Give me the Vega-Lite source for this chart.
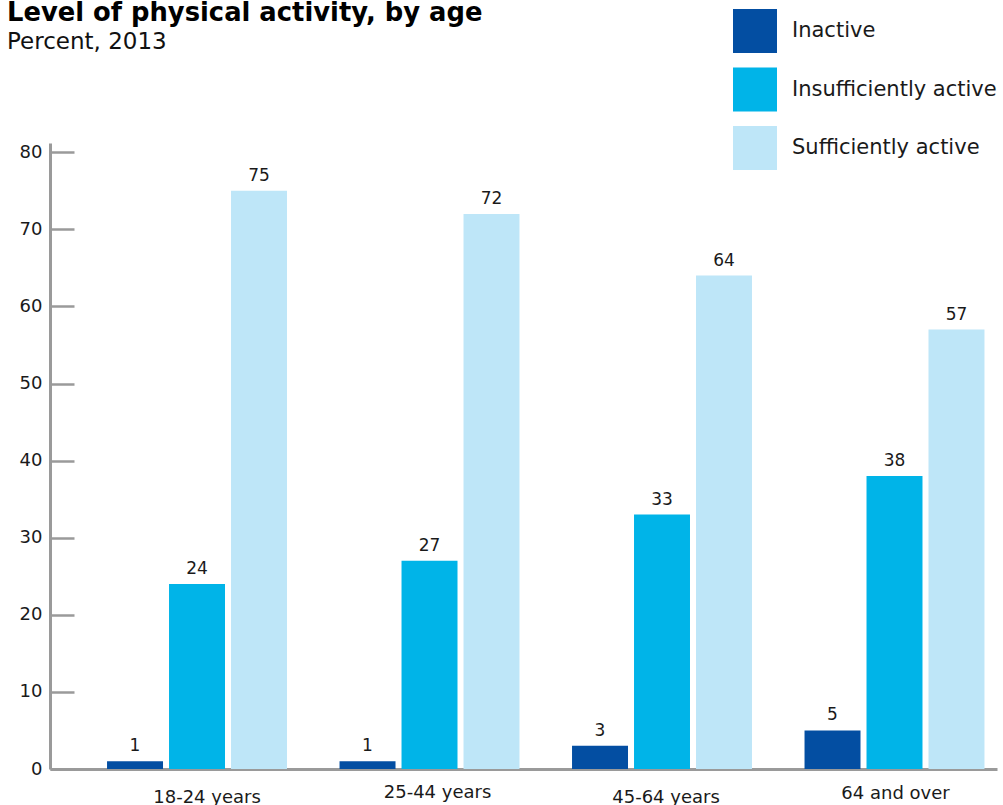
{
  "$schema": "https://vega.github.io/schema/vega-lite/v6.json",
  "autosize": {"type": "none"},
  "padding": {"left": 50, "top": 143, "right": 6, "bottom": 36},
  "width": 947,
  "height": 626,
  "background": "white",
  "title": {
    "text": "Level of physical activity, by age",
    "subtitle": "Percent, 2013",
    "anchor": "start",
    "frame": "group",
    "dx": -43,
    "offset": -46,
    "font": "DejaVu Sans",
    "fontSize": 25.8,
    "fontWeight": "bold",
    "color": "#000000",
    "subtitleFont": "DejaVu Sans",
    "subtitleFontSize": 23,
    "subtitleColor": "#111111",
    "subtitlePadding": 4
  },
  "config": {
    "view": {"stroke": null},
    "font": "DejaVu Sans"
  },
  "data": {
    "values": [
      {"age": "18-24 years", "level": "Inactive", "percent": 1},
      {"age": "18-24 years", "level": "Insufficiently active", "percent": 24},
      {"age": "18-24 years", "level": "Sufficiently active", "percent": 75},
      {"age": "25-44 years", "level": "Inactive", "percent": 1},
      {"age": "25-44 years", "level": "Insufficiently active", "percent": 27},
      {"age": "25-44 years", "level": "Sufficiently active", "percent": 72},
      {"age": "45-64 years", "level": "Inactive", "percent": 3},
      {"age": "45-64 years", "level": "Insufficiently active", "percent": 33},
      {"age": "45-64 years", "level": "Sufficiently active", "percent": 64},
      {"age": "64 and over", "level": "Inactive", "percent": 5},
      {"age": "64 and over", "level": "Insufficiently active", "percent": 38},
      {"age": "64 and over", "level": "Sufficiently active", "percent": 57}
    ]
  },
  "encoding": {
    "x": {
      "field": "age",
      "type": "nominal",
      "sort": ["18-24 years", "25-44 years", "45-64 years", "64 and over"],
      "scale": {"paddingInner": 0.226, "paddingOuter": 0.1496, "align": 0.82},
      "axis": {
        "title": null,
        "labelAngle": 0,
        "ticks": false,
        "tickSize": 0,
        "domainColor": "#9a9a9a",
        "domainWidth": 3,
        "labelFont": "DejaVu Sans",
        "labelFontSize": 18,
        "labelColor": "#1a1a1a",
        "labelBaseline": "alphabetic",
        "labelOffset": {
          "condition": [
            {"test": "datum.value === '18-24 years'", "value": 10},
            {"test": "datum.value === '25-44 years'", "value": 8},
            {"test": "datum.value === '45-64 years'", "value": 4}
          ],
          "value": 1
        },
        "labelPadding": {
          "condition": [
            {"test": "datum.value === '25-44 years'", "value": 28},
            {"test": "datum.value === '64 and over'", "value": 29}
          ],
          "value": 33
        }
      }
    },
    "xOffset": {
      "field": "level",
      "type": "nominal",
      "sort": ["Inactive", "Insufficiently active", "Sufficiently active"],
      "scale": {"paddingInner": 0.097, "paddingOuter": 0}
    },
    "y": {
      "field": "percent",
      "type": "quantitative",
      "scale": {"domain": [0, 81.2], "nice": false},
      "axis": {
        "title": null,
        "grid": false,
        "values": [0, 10, 20, 30, 40, 50, 60, 70, 80],
        "domainColor": "#9a9a9a",
        "domainWidth": 3,
        "tickColor": "#9a9a9a",
        "tickWidth": 2.5,
        "tickSize": -24,
        "labelPadding": 32,
        "labelFont": "DejaVu Sans",
        "labelFontSize": 18,
        "labelColor": "#1a1a1a"
      }
    }
  },
  "layer": [
    {
      "mark": {"type": "bar"},
      "encoding": {
        "color": {
          "field": "level",
          "type": "nominal",
          "scale": {
            "domain": ["Inactive", "Insufficiently active", "Sufficiently active"],
            "range": ["#034ea2", "#00b4e8", "#bee6f8"]
          },
          "legend": {
            "title": null,
            "orient": "none",
            "legendX": 683,
            "legendY": -134,
            "symbolType": "square",
            "symbolSize": 1936,
            "symbolStrokeWidth": 0,
            "symbolOpacity": 1,
            "rowPadding": 14.5,
            "labelOffset": 15,
            "labelFont": "DejaVu Sans",
            "labelFontSize": 21,
            "labelColor": "#1a1a1a",
            "labelLimit": 0,
            "padding": 0
          }
        }
      }
    },
    {
      "mark": {"type": "text", "baseline": "alphabetic", "dy": -10, "fontSize": 17, "font": "DejaVu Sans", "color": "#1a1a1a"},
      "encoding": {
        "text": {"field": "percent", "type": "quantitative"}
      }
    }
  ]
}
